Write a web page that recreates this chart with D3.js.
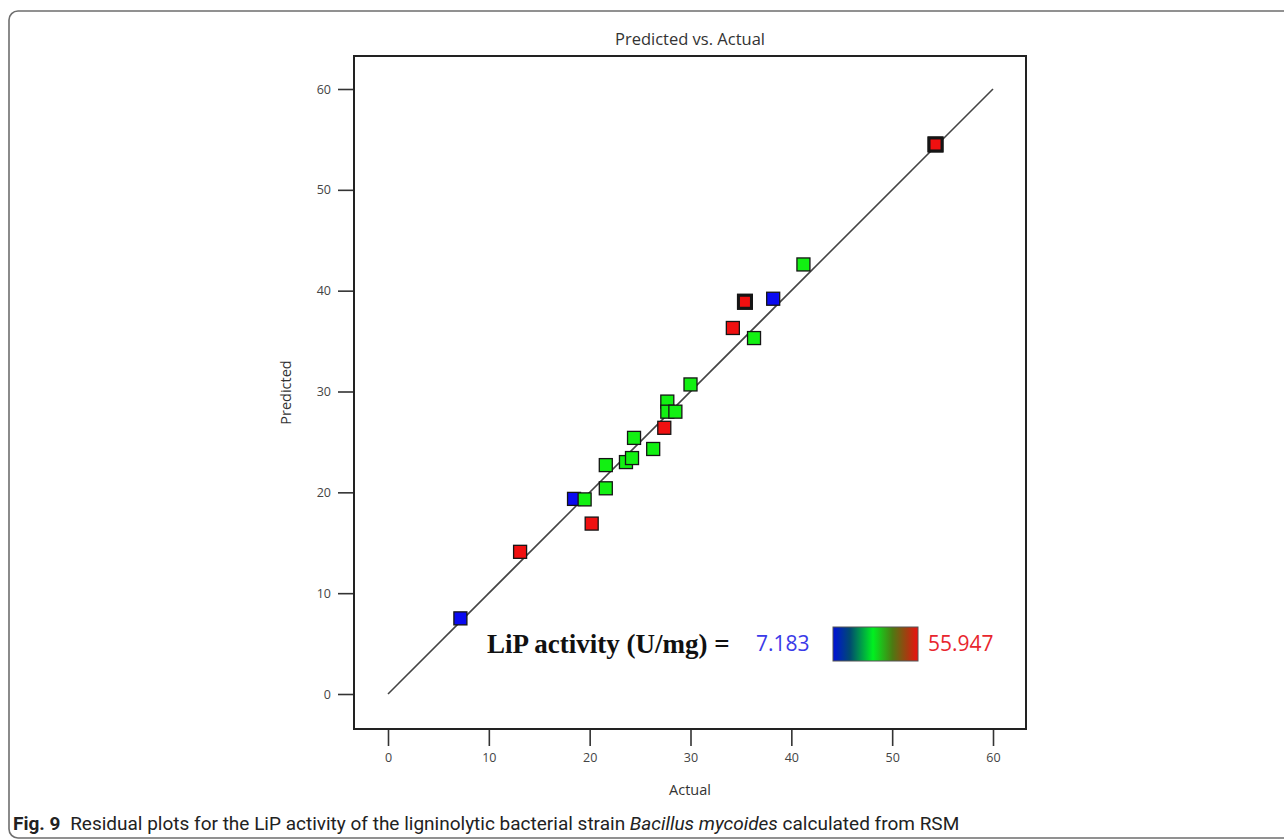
<!DOCTYPE html>
<html>
<head>
<meta charset="utf-8">
<script src="https://cdn.jsdelivr.net/npm/d3@7"></script>
<style>
  body { margin: 0; background: #fff; }
  svg { display: block; }
</style>
</head>
<body>
<div id="chart"></div>
<script>
// Predicted vs. Actual - LiP activity (Design-Expert style)
const actual    = [7.18, 13.1, 18.45, 19.5, 20.2, 21.6, 21.6, 23.6, 24.2, 24.4, 26.3, 27.7, 27.7, 28.5, 27.4, 30.0, 34.2, 35.4, 35.4, 36.3, 38.2, 41.2, 54.3, 54.3];
const predicted = [7.5, 14.1, 19.35, 19.3, 16.9, 22.7, 20.4, 23.0, 23.4, 25.4, 24.3, 29.0, 28.0, 28.0, 26.4, 30.7, 36.3, 38.9, 38.9, 35.3, 39.2, 42.6, 54.5, 54.5];
const level     = ["low","high","low","mid","high","mid","mid","mid","mid","mid","mid","mid","mid","mid","high","mid","high","high","high","mid","low","mid","high","high"];
const ticks = [0, 10, 20, 30, 40, 50, 60];
const rangeMin = "7.183", rangeMax = "55.947";

const W = 1284, H = 839;
const frame = {left: 354, top: 56, right: 1026, bottom: 729};

const svg = d3.select("#chart").append("svg")
    .attr("width", W).attr("height", H);

// outer card border
svg.append("rect")
    .attr("x", 9).attr("y", 11)
    .attr("width", W + 40).attr("height", 827)
    .attr("rx", 9)
    .attr("fill", "none")
    .attr("stroke", "#6e6e6e")
    .attr("stroke-width", 1.6);

let x = d3.scaleLinear().domain([0, 60]).range([388, 993]);
let y = d3.scaleLinear().domain([0, 60]).range([694, 89]);

const tickFont = "'Open Sans', 'Noto Sans', sans-serif";

// title
svg.append("text")
    .attr("x", (frame.left + frame.right) / 2)
    .attr("y", 45)
    .attr("text-anchor", "middle")
    .style("font-family", tickFont)
    .style("font-size", "16.5px")
    .attr("fill", "#333")
    .text("Predicted vs. Actual");

// axes
let xAxis = svg.append("g")
    .attr("transform", "translate(0," + frame.bottom + ")")
    .call(d3.axisBottom(x).tickValues(ticks).tickSize(17).tickPadding(7).tickSizeOuter(0));
let yAxis = svg.append("g")
    .attr("transform", "translate(" + frame.left + ",0)")
    .call(d3.axisLeft(y).tickValues(ticks).tickSize(16).tickPadding(7).tickSizeOuter(0));
[xAxis, yAxis].forEach(function(g) {
    g.select(".domain").remove();
    g.selectAll(".tick line").attr("stroke", "#333").attr("stroke-width", 1.6);
    g.selectAll(".tick text")
        .attr("fill", "#444")
        .style("font-family", tickFont)
        .style("font-size", "12.5px");
});

// plot frame
svg.append("rect")
    .attr("x", frame.left).attr("y", frame.top)
    .attr("width", frame.right - frame.left)
    .attr("height", frame.bottom - frame.top)
    .attr("fill", "none")
    .attr("stroke", "#222")
    .attr("stroke-width", 2);

// axis titles
svg.append("text")
    .attr("x", (frame.left + frame.right) / 2)
    .attr("y", 795)
    .attr("text-anchor", "middle")
    .style("font-family", tickFont)
    .style("font-size", "14.5px")
    .attr("fill", "#333")
    .text("Actual");
svg.append("text")
    .attr("transform", "translate(291," + ((frame.top + frame.bottom) / 2) + ")rotate(-90)")
    .attr("text-anchor", "middle")
    .style("font-family", tickFont)
    .style("font-size", "14.5px")
    .attr("fill", "#333")
    .text("Predicted");

// 1:1 line
svg.append("line")
    .attr("x1", x(0)).attr("y1", y(0))
    .attr("x2", x(60)).attr("y2", y(60))
    .attr("stroke", "#444")
    .attr("stroke-width", 1.6);

// points
const color = d3.scaleOrdinal()
    .domain(["low", "mid", "high"])
    .range(["#0a0af0", "#12f012", "#f01010"]);
const pts = actual.map(function(a, i) { return {a: a, p: predicted[i], lev: level[i]}; });
const counts = d3.rollup(pts, v => v.length, d => d.a + "_" + d.p);
const sz = 13;
svg.selectAll("rect.pt")
    .data(pts)
    .enter()
    .append("rect")
    .attr("class", "pt")
    .attr("x", d => x(d.a) - sz / 2)
    .attr("y", d => y(d.p) - sz / 2)
    .attr("width", sz).attr("height", sz)
    .attr("fill", d => color(d.lev))
    .attr("stroke", "#151515")
    .attr("stroke-width", d => counts.get(d.a + "_" + d.p) > 1 ? 3 : 1.3);

// legend
const defs = svg.append("defs");
const grad = defs.append("linearGradient").attr("id", "lipGrad");
[[0, "#0010d8"], [0.2, "#004a70"], [0.47, "#00f020"], [0.7, "#4c7a12"], [0.88, "#a83a10"], [1, "#ee1010"]]
    .forEach(function(s) { grad.append("stop").attr("offset", s[0]).attr("stop-color", s[1]); });

svg.append("text")
    .attr("x", 487).attr("y", 653)
    .style("font-family", "'Liberation Serif', 'Times New Roman', serif")
    .style("font-weight", "bold")
    .style("font-size", "27px")
    .attr("fill", "#111")
    .text("LiP activity (U/mg) =");
svg.append("text")
    .attr("x", 756).attr("y", 651)
    .style("font-family", tickFont)
    .style("font-size", "21px")
    .attr("fill", "#3a3ae8")
    .text(rangeMin);
svg.append("rect")
    .attr("x", 833).attr("y", 627)
    .attr("width", 85).attr("height", 34)
    .attr("fill", "url(#lipGrad)")
    .attr("stroke", "#555")
    .attr("stroke-width", 1);
svg.append("text")
    .attr("x", 928).attr("y", 651)
    .style("font-family", tickFont)
    .style("font-size", "21px")
    .attr("fill", "#e8262e")
    .text(rangeMax);

// caption, sized so it runs to the same width as the original
let cap = svg.append("text")
    .attr("x", 13).attr("y", 830)
    .style("font-family", "'Roboto', 'Noto Sans', sans-serif")
    .style("font-size", "16px")
    .attr("fill", "#222");
cap.append("tspan").style("font-weight", "bold").text("Fig. 9");
cap.append("tspan").text("\u2002Residual plots for the LiP activity of the ligninolytic bacterial strain ");
cap.append("tspan").style("font-style", "italic").text("Bacillus mycoides");
cap.append("tspan").text(" calculated from RSM");
const capW = cap.node().getComputedTextLength();
cap.style("font-size", Math.min(19, 16 * 955 / capW) + "px");
</script>
</body>
</html>
